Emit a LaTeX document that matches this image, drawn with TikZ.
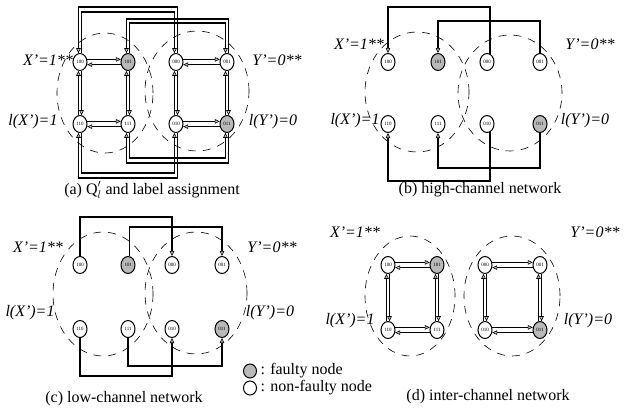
\documentclass[tikz,border=0pt]{standalone}
\usepackage{fontspec}
\setmainfont{Liberation Serif}
\usetikzlibrary{arrows.meta}
\usetikzlibrary{shapes.geometric}
\tikzset{
	% Two node styles for the cube: faulty and non-faulty
	faulty node/.style={ellipse,draw,line width=1pt,fill=gray!55,minimum width=14pt,minimum height=17pt,inner sep=0pt,font=\fontsize{5}{5}\selectfont},
	good node/.style={ellipse,draw,line width=1pt,fill=white,minimum width=14pt,minimum height=17pt,inner sep=0pt,font=\fontsize{5}{5}\selectfont},
	link/.style={line width=1.1pt,-{Triangle[length=5pt,width=4.5pt,fill=gray!50,line width=0.6pt]}},
	cluster/.style={line width=0.6pt,dash pattern=on 8pt off 7pt},
	lab/.style={font=\fontsize{16}{16}\selectfont\itshape},
	caption/.style={font=\fontsize{16}{16}\selectfont}
}
\begin{document}
\begin{tikzpicture}[x=1pt,y=-1pt]
			\useasboundingbox (0,0) rectangle (624,408);
			% macro for the eight nodes of one panel
			\newcommand{\qcube}[7]{
				\node[good node](#1-100)at(#2,#6){100};
				\node[faulty node](#1-101)at(#3,#6){101};
				\node[good node](#1-000)at(#4,#6){000};
				\node[good node](#1-001)at(#5,#6){001};
				\node[good node](#1-110)at(#2,#7){110};
				\node[good node](#1-111)at(#3,#7){111};
				\node[good node](#1-010)at(#4,#7){010};
				\node[faulty node](#1-011)at(#5,#7){011};}
			% macros for two-way links
			\newcommand{\hpair}[2]{\draw[link](#1.20)--(#2.160);\draw[link](#2.200)--(#1.340);}
			\newcommand{\vpair}[2]{\draw[link](#2.100)--(#1.260);\draw[link](#1.280)--(#2.80);}
			% macro for the four group labels
			\newcommand{\grouplabels}[5]{
				\node[lab](#1-x)at(#2){X'=1**};
				\node[lab](#1-y)at(#3){Y'=0**};
				\node[lab](#1-lx)at(#4){l(X')=1};
				\node[lab](#1-ly)at(#5){l(Y')=0};}
			
			% (a) Q'_l and label assignment
			\draw[cluster](105,93) ellipse (48pt and 60pt);
			\draw[cluster](197,91) ellipse (52pt and 60pt);
			\qcube{a}{80}{128}{176}{227}{62}{124}
			\hpair{a-100}{a-101}
			\hpair{a-000}{a-001}
			\hpair{a-110}{a-111}
			\hpair{a-010}{a-011}
			\vpair{a-100}{a-110}
			\vpair{a-101}{a-111}
			\vpair{a-000}{a-010}
			\vpair{a-001}{a-011}
			\draw[link](a-000.80)--(a-000.80|-0,7)-|(a-100.100);
			\draw[link](a-100.80)--(a-100.80|-0,12)-|(a-000.100);
			\draw[link](a-001.80)--(a-001.80|-0,19)-|(a-101.100);
			\draw[link](a-101.80)--(a-101.80|-0,23)-|(a-001.100);
			\draw[link](a-010.280)--(a-010.280|-0,178)-|(a-110.260);
			\draw[link](a-110.280)--(a-110.280|-0,173)-|(a-010.260);
			\draw[link](a-011.280)--(a-011.280|-0,163)-|(a-111.260);
			\draw[link](a-111.280)--(a-111.280|-0,158)-|(a-011.260);
			\grouplabels{a}{48,60}{277,60}{33,122}{273,122}
			\node[caption](cap-a)at(152,190){(a) Q$'_{l}$ and label assignment};
			
			% (b) high-channel network
			\draw[cluster](417,92) ellipse (52pt and 60pt);
			\draw[cluster](510,93) ellipse (52pt and 58pt);
			\qcube{b}{388}{438}{487}{540}{62}{124}
			\draw[link](b-000.70)--(b-000.70|-0,7)-|(b-100.north);
			\draw[link](b-001.north)--(b-001.north|-0,21)-|(b-101.north);
			\draw[link](b-010.290)--(b-010.290|-0,181)-|(b-110.south);
			\draw[link](b-011.south)--(b-011.south|-0,168)-|(b-111.south);
			\grouplabels{b}{359,44}{590,44}{355,121}{585,121}
			\node[caption](cap-b)at(480,190){(b) high-channel network};
			
			% (c) low-channel network
			\draw[cluster](103,294) ellipse (50pt and 62pt);
			\draw[cluster](196,293) ellipse (51pt and 61pt);
			\qcube{c}{80}{128}{172}{222}{265}{329}
			\draw[link](c-100.north)--(c-100.north|-0,217)-|(c-000.north);
			\draw[link](c-101.80)--(c-101.80|-0,227)-|(c-001.north);
			\draw[link](c-110.south)--(c-110.south|-0,376)-|(c-010.south);
			\draw[link](c-111.south)--(c-111.south|-0,366)-|(c-011.south);
			\grouplabels{c}{38,247}{272,247}{30,313}{270,313}
			\node[caption](cap-c)at(124,399){(c) low-channel network};
			
			% legend
			\node[faulty node,minimum width=13pt,minimum height=14pt](key-f)at(250,371){};
			\node[caption,anchor=west](key-ft)at(key-f.east){: faulty node};
			\node[good node,minimum width=13pt,minimum height=14pt](key-g)at(250,388){};
			\node[caption,anchor=west](key-gt)at(key-g.east){: non-faulty node};
			
			% (d) inter-channel network
			\draw[cluster](410,296) ellipse (45pt and 60pt);
			\draw[cluster](512,296) ellipse (48pt and 60pt);
			\qcube{d}{388}{437}{485}{540}{265}{330}
			\hpair{d-100}{d-101}
			\hpair{d-000}{d-001}
			\hpair{d-110}{d-111}
			\hpair{d-010}{d-011}
			\vpair{d-100}{d-110}
			\vpair{d-101}{d-111}
			\vpair{d-000}{d-010}
			\vpair{d-001}{d-011}
			\grouplabels{d}{355,232}{595,232}{350,321}{588,321}
			\node[caption](cap-d)at(488,397){(d) inter-channel network};
\end{tikzpicture}
\end{document}
